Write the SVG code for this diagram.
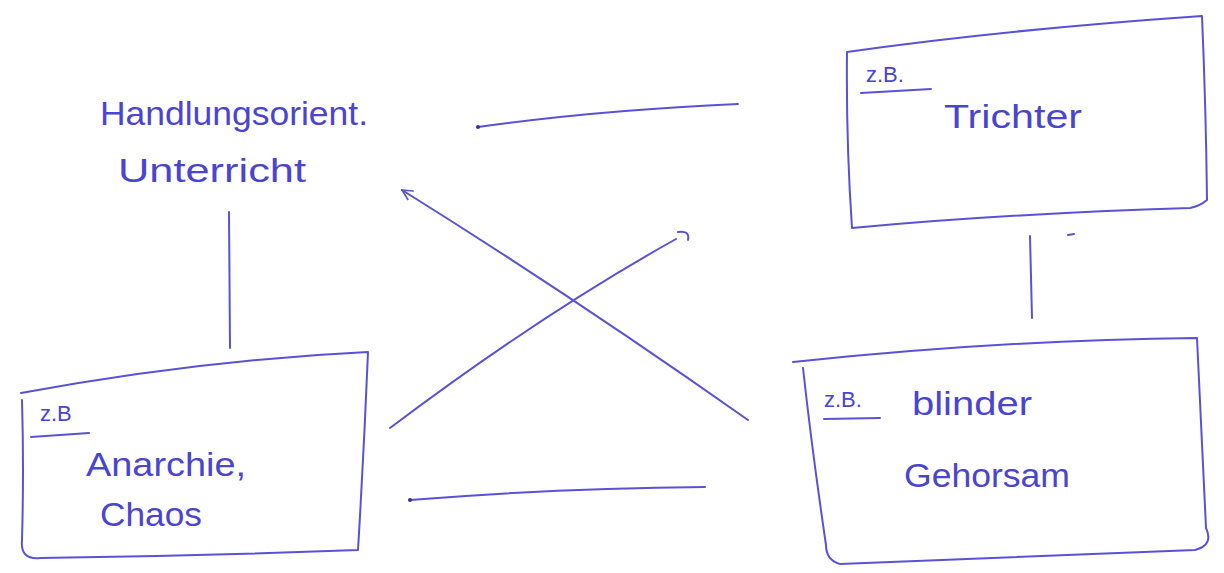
<svg xmlns="http://www.w3.org/2000/svg" width="1224" height="573" viewBox="0 0 1224 573">
<defs>
<style>
.ink{fill:none;stroke:#5a52d6;stroke-width:2;stroke-linecap:round;stroke-linejoin:round}
.txt{font-family:"Liberation Sans",Arial,sans-serif;fill:#4a44d0;font-weight:normal}
.big{font-size:34px}
.zb{font-size:22px}
</style>
<marker id="open" viewBox="0 0 12 12" refX="11" refY="6" markerWidth="12" markerHeight="12" orient="auto" markerUnits="userSpaceOnUse">
<path d="M1,1 L11,6 L1,11" fill="none" stroke="#5a52d6" stroke-width="1.6" stroke-linecap="round" stroke-linejoin="round"/>
</marker>
</defs>
<rect width="1224" height="573" fill="#ffffff"/>
<g id="node-handlung">
<text class="txt big" x="100" y="125" textLength="268" lengthAdjust="spacingAndGlyphs">Handlungsorient.</text>
<text class="txt big" x="118" y="182" textLength="188" lengthAdjust="spacingAndGlyphs">Unterricht</text>
</g>
<g id="node-trichter">
<path class="ink" d="M847,52 Q1000,30 1202,16 Q1206,110 1207,200 Q1200,206 1190,208 Q1000,214 852,228 Q846,140 847,52 Z"/>
<path class="ink" d="M861,93 L931,89"/>
<text class="txt zb" x="866" y="82">z.B.</text>
<text class="txt big" x="944" y="128" textLength="138" lengthAdjust="spacingAndGlyphs">Trichter</text>
</g>
<g id="node-anarchie">
<path class="ink" d="M21,393 Q200,360 368,352 Q364,450 358,550 Q200,556 40,558 Q20,560 22,540 Q24,470 22,400"/>
<path class="ink" d="M31,437 L89,433"/>
<text class="txt zb" x="40" y="421">z.B</text>
<text class="txt big" x="86" y="476" textLength="160" lengthAdjust="spacingAndGlyphs">Anarchie,</text>
<text class="txt big" x="100" y="526" textLength="102" lengthAdjust="spacingAndGlyphs">Chaos</text>
</g>
<g id="node-gehorsam">
<path class="ink" d="M793,362 Q1000,340 1197,338 Q1202,440 1206,528 Q1214,545 1195,550 Q1000,558 840,564 Q826,560 826,545 Q812,450 803,368"/>
<path class="ink" d="M824,419 L880,418"/>
<text class="txt zb" x="824" y="407">z.B.</text>
<text class="txt big" x="912" y="415" textLength="120" lengthAdjust="spacingAndGlyphs">blinder</text>
<text class="txt big" x="904" y="487" textLength="166" lengthAdjust="spacingAndGlyphs">Gehorsam</text>
</g>
<g id="connectors">
<path class="ink" d="M478,127 Q600,110 738,104"/>
<circle cx="478" cy="127" r="2" fill="#3a3490"/>
<path class="ink" d="M229,212 L230,348"/>
<path class="ink" d="M1030,236 L1032,318"/>
<path class="ink" d="M1068,235 L1074,234"/>
<path class="ink" d="M410,500 Q560,488 705,487"/>
<circle cx="410" cy="500" r="2" fill="#3a3490"/>
<path class="ink" d="M748,420 Q575,298 402,190" marker-end="url(#open)"/>
<path class="ink" d="M390,428 Q540,315 676,239"/>
<path class="ink" d="M678,232 Q690,230 688,240"/>
</g>
</svg>
